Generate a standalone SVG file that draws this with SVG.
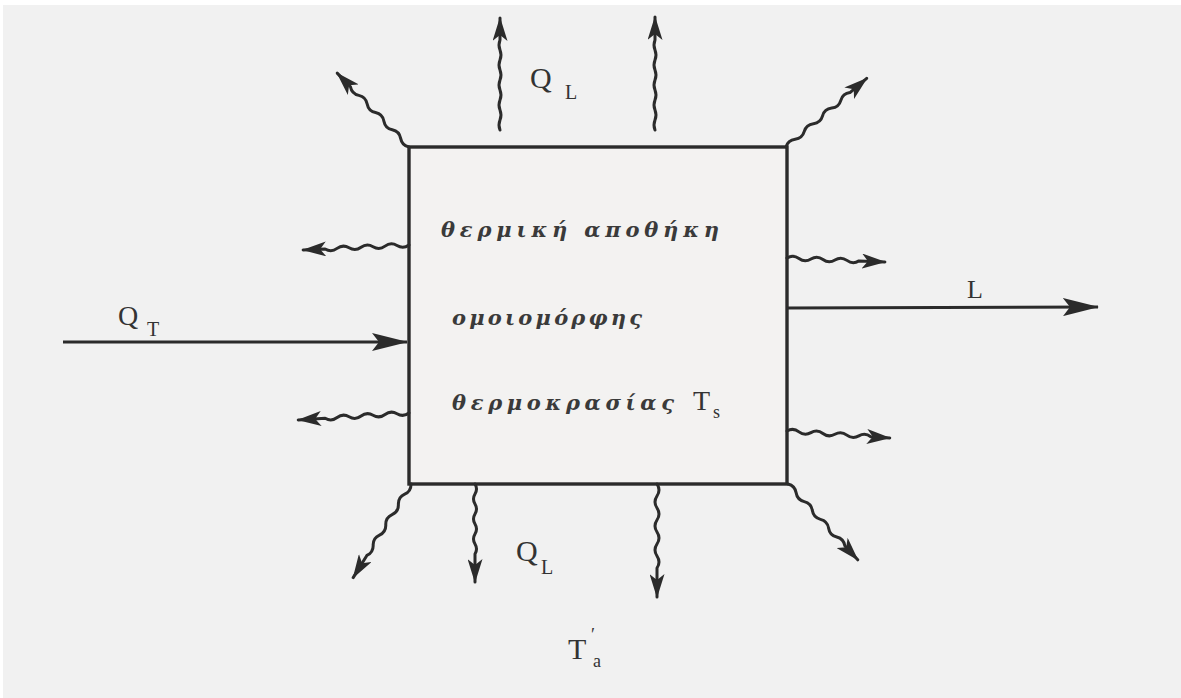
<svg xmlns="http://www.w3.org/2000/svg" width="1181" height="698" viewBox="0 0 1181 698">
<style>
.wv{fill:none;stroke:#2b2b2b;stroke-width:3;stroke-linecap:round;stroke-linejoin:round;marker-end:url(#ah)}
.st{fill:none;stroke:#2b2b2b;stroke-width:3;marker-end:url(#big)}
.gr{font-family:"DejaVu Serif","Liberation Serif",serif;font-style:italic;font-weight:bold;font-size:21px;fill:#3a3a3a}
.lb{font-family:"Liberation Serif","DejaVu Serif",serif;fill:#333}
</style>
<defs>
<marker id="ah" markerUnits="userSpaceOnUse" viewBox="0 0 24 15" markerWidth="24" markerHeight="15" refX="23" refY="7.5" orient="auto">
<path d="M0,0 L24,7.5 L0,15 L6,7.5 z" fill="#2b2b2b"/>
</marker>
<marker id="big" markerUnits="userSpaceOnUse" viewBox="0 0 36 18" markerWidth="36" markerHeight="18" refX="35" refY="9" orient="auto">
<path d="M0,0 L36,9 L0,18 L7,9 z" fill="#2b2b2b"/>
</marker>
</defs>
<rect x="0" y="0" width="1181" height="698" fill="#ffffff"/>
<rect x="3" y="5" width="1178" height="693" fill="#f1f1f1"/>

<g id="store">
<rect x="409" y="147" width="378" height="337" fill="#f3f2f1" stroke="#2b2b2b" stroke-width="3.4"/>
<text class="gr" x="441" y="237" textLength="278" lengthAdjust="spacing">θερμική αποθήκη</text>
<text class="gr" x="452" y="325" textLength="190" lengthAdjust="spacing">ομοιομόρφης</text>
<text class="gr" x="452" y="410" textLength="222" lengthAdjust="spacing">θερμοκρασίας</text>
<text class="lb" x="693" y="410" font-size="28">T</text>
<text class="lb" x="713" y="418" font-size="18">s</text>
</g>

<g id="connectors">
<path class="wv" transform="translate(500,130) rotate(-90)" d="M0,0 q5,-2 10,0 t10,0 t10,0 t10,0 t10,0 t10,0 t10,0 t10,0 t10,0 L112,0"/>
<path class="wv" transform="translate(655,130) rotate(-90)" d="M0,0 q5,-2 10,0 t10,0 t10,0 t10,0 t10,0 t10,0 t10,0 t10,0 t10,0 L113,0"/>
<path class="wv" transform="translate(409,147) rotate(-134.2)" d="M0,0 q6,-4 12,0 t12,0 t12,0 t12,0 t12,0 t12,0 t12,0 L103,0"/>
<path class="wv" transform="translate(786,147) rotate(-40.4)" d="M0,0 q6,-4 12,0 t12,0 t12,0 t12,0 t12,0 t12,0 t12,0 L106,0"/>
<path class="wv" transform="translate(409,245) rotate(177.3)" d="M0,0 q6,-4 12,0 t12,0 t12,0 t12,0 t12,0 t12,0 t12,0 L106,0"/>
<path class="wv" transform="translate(409,413) rotate(176.4)" d="M0,0 q6,-4 12,0 t12,0 t12,0 t12,0 t12,0 t12,0 t12,0 L111,0"/>
<path class="wv" transform="translate(787,258) rotate(2.3)" d="M0,0 q6,-4 12,0 t12,0 t12,0 t12,0 t12,0 t12,0 L98,0"/>
<path class="wv" transform="translate(787,431) rotate(3.9)" d="M0,0 q6,-4 12,0 t12,0 t12,0 t12,0 t12,0 t12,0 t12,0 L103,0"/>
<path class="wv" transform="translate(411,484) rotate(121.7)" d="M0,0 q6,-4 12,0 t12,0 t12,0 t12,0 t12,0 t12,0 t12,0 L110,0"/>
<path class="wv" transform="translate(475,484) rotate(90)" d="M0,0 q5,-3 10,0 t10,0 t10,0 t10,0 t10,0 t10,0 t10,0 L98,0"/>
<path class="wv" transform="translate(657,484) rotate(90)" d="M0,0 q6,-4 12,0 t12,0 t12,0 t12,0 t12,0 t12,0 t12,0 L113,0"/>
<path class="wv" transform="translate(788,484) rotate(47.4)" d="M0,0 q6,-4 12,0 t12,0 t12,0 t12,0 t12,0 t12,0 t12,0 L103,0"/>
<path class="st" d="M63,342 L407,342"/>
<path class="st" d="M787,308 L1098,307"/>
</g>

<g id="labels">
<text class="lb" x="530" y="88" font-size="30">Q</text>
<text class="lb" x="565" y="99" font-size="20">L</text>
<text class="lb" x="516" y="561" font-size="30">Q</text>
<text class="lb" x="541" y="574" font-size="20">L</text>
<text class="lb" x="118" y="325" font-size="28">Q</text>
<text class="lb" x="147" y="336" font-size="20">T</text>
<text class="lb" x="967" y="298" font-size="26">L</text>
<text class="lb" x="568" y="659" font-size="30">T</text>
<text class="lb" x="591" y="641" font-size="18">′</text>
<text class="lb" x="593" y="667" font-size="18">a</text>
</g>
</svg>
